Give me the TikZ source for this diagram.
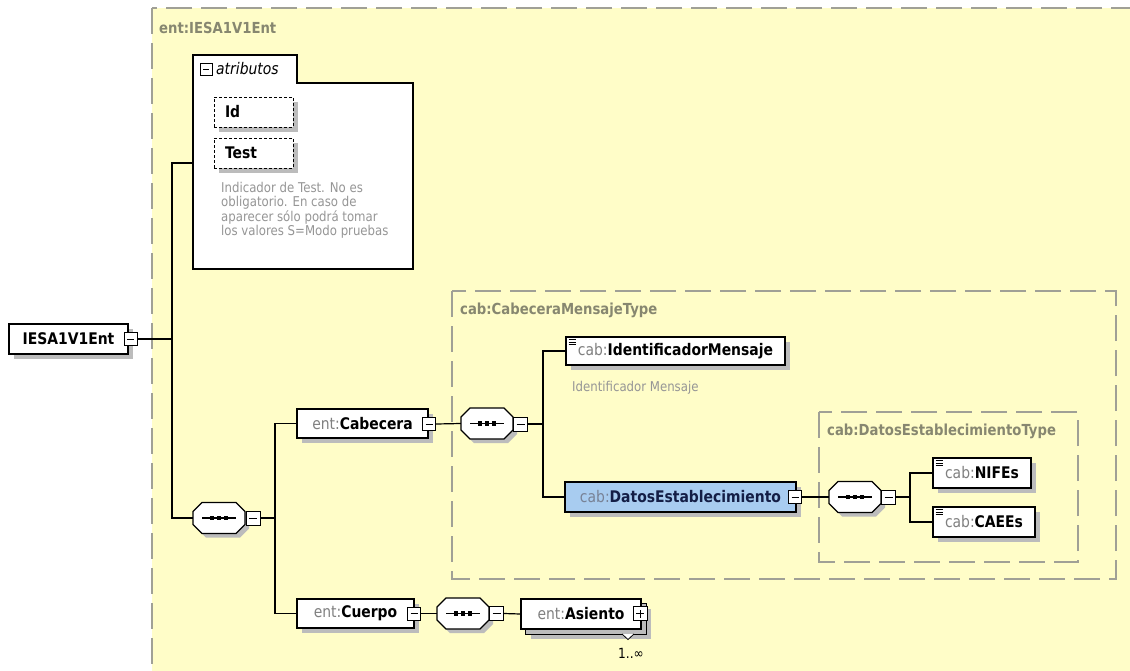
\documentclass[tikz,border=0pt]{standalone}
\usepackage{fontspec}
\setmainfont{DejaVu Sans}[FakeStretch=0.87]
\usetikzlibrary{shadows,calc}
\definecolor{bgY}{RGB}{255,253,200}
\definecolor{dashG}{RGB}{160,160,150}
\definecolor{typeG}{RGB}{135,135,112}
\definecolor{pfxG}{RGB}{128,128,128}
\definecolor{descG}{RGB}{150,150,150}
\definecolor{shadG}{RGB}{188,188,188}
\definecolor{selB}{RGB}{168,204,240}
\definecolor{selT}{RGB}{20,30,70}
\definecolor{selP}{RGB}{120,130,150}
\newcommand\xpfx[1]{{\color{pfxG}#1}}
\newcommand\seqsym[3]{%
 \begin{scope}[shift={(#2,#3)}]
  \fill[shadG] (-13,-11.5) -- (21,-11.5) -- (30,-2.5) -- (30,10.5) -- (21,19.5) -- (-13,19.5) -- (-22,10.5) -- (-22,-2.5) -- cycle;
  \node[seqbox] (#1) at (0,0) {};
  \draw[line width=1.2pt, fill=white] (-17,-15.5) -- (17,-15.5) -- (26,-6.5) -- (26,6.5) -- (17,15.5) -- (-17,15.5) -- (-26,6.5) -- (-26,-6.5) -- cycle;
  \draw[line width=1.1pt] (-17,0) -- (17,0);
  \foreach \dx in {-7,0,7} \fill ({\dx-2.2},-2.2) rectangle ({\dx+2.2},2.2);
 \end{scope}}
\tikzset{
 conn/.style={draw=black, line width=1.2pt},
 typebox/.style={draw=dashG, line width=1.1pt, dash pattern=on 26pt off 9pt, fill=bgY},
 typelbl/.style={text=typeG, font=\bfseries\fontsize{15.2}{18}\selectfont, inner sep=0pt, anchor=west},
 elem/.style={draw=black, line width=1.2pt, fill=white, inner sep=0pt, font=\fontsize{16}{19}\selectfont,
   drop shadow={opacity=1, fill=shadG, shadow xshift=5pt, shadow yshift=-5pt}},
 simple/.style={path picture={\draw[line width=0.7pt]
   ([xshift=2.5pt,yshift=-2.5pt]path picture bounding box.north west) -- ++(7pt,0pt)
   ([xshift=2.5pt,yshift=-5pt]path picture bounding box.north west) -- ++(7pt,0pt)
   ([xshift=2.5pt,yshift=-7.5pt]path picture bounding box.north west) -- ++(7pt,0pt);}},
 tog/.style={draw=black, fill=white, line width=1pt, minimum size=13pt, inner sep=0pt,
   path picture={\draw[line width=1pt] ([xshift=3pt]path picture bounding box.west) -- ([xshift=-3pt]path picture bounding box.east);}},
 togplus/.style={draw=black, fill=white, line width=1pt, minimum size=13pt, inner sep=0pt,
   path picture={\draw[line width=1pt] ([xshift=3pt]path picture bounding box.west) -- ([xshift=-3pt]path picture bounding box.east)
     ([yshift=3pt]path picture bounding box.south) -- ([yshift=-3pt]path picture bounding box.north);}},
 attrel/.style={draw=black, line width=1pt, dash pattern=on 3pt off 2pt, fill=white, inner xsep=11pt, inner ysep=0pt,
   text width=57pt, minimum height=30pt, align=left, font=\bfseries\fontsize{16}{19}\selectfont,
   drop shadow={opacity=1, fill=shadG, shadow xshift=5pt, shadow yshift=-5pt}},
 desc/.style={text=descG, font=\fontsize{13.5}{14.5}\selectfont, inner sep=0pt, align=left},
 seqbox/.style={draw=none, minimum width=52pt, minimum height=31pt, inner sep=0pt},
}
\begin{document}
\begin{tikzpicture}[x=1pt,y=-1pt]
\clip (0,0) rectangle (1130,670);
\fill[white] (0,0) rectangle (1130,670);
% outer type box
\draw[typebox] (152,8) rectangle (1160,700);
\node[typelbl] (tOuter) at (159,28) {ent:IESA1V1Ent};
% attributes
\draw[line width=1.2pt, fill=white] (193,83) -- (193,55) -- (297,55) -- (297,83) -- (413,83) -- (413,269) -- (193,269) -- cycle;
\coordinate (attrL) at (193,163);
\node[tog, minimum size=12pt] (attrm) at (206,69) {};
\node[anchor=west, inner sep=0pt, font=\itshape\fontsize{16}{19}\selectfont] (attrlbl) at (216,69) {atributos};
\node[attrel] (id) at (253.5,112) {Id};
\node[attrel] (test) at (253.5,153) {Test};
\node[desc, anchor=north west] (testdesc) at (221,182) {Indicador de Test. No es\\obligatorio. En caso de\\aparecer sólo podrá tomar\\los valores S=Modo pruebas};
% root
\node[elem, minimum width=119pt, minimum height=30pt] (root) at (68.5,339) {\textbf{IESA1V1Ent}};
\node[tog] (rootm) at (130.5,339) {};
\coordinate (j1) at (172,339);
% sequence 1
\seqsym{s1}{219}{518}
\node[tog, minimum size=14pt] (s1m) at (253,518) {};
\coordinate (j2) at (275,518);
% Cabecera
\node[elem, minimum width=131pt, minimum height=29pt] (cab) at (362.5,423.5) {\xpfx{ent:}\textbf{Cabecera}};
\node[tog] (cabm) at (429,424) {};
% Cabecera type box
\draw[typebox] (452,291) rectangle (1116,579);
\node[typelbl] (tCab) at (460,310) {cab:CabeceraMensajeType};
\seqsym{s2}{487}{423.5}
\node[tog, minimum size=14pt] (s2m) at (520.5,424) {};
\coordinate (j3) at (543,424);
\node[elem, simple, minimum width=219pt, minimum height=28pt] (idmsg) at (675.5,351) {\xpfx{cab:}\textbf{IdentificadorMensaje}};
\node[desc, anchor=west] (idmsgdesc) at (572,388) {Identificador Mensaje};
\node[elem, fill=selB, minimum width=231pt, minimum height=30pt] (dat) at (680.5,497) {{\color{selP}cab:}\textbf{\color{selT}DatosEstablecimiento}};
\node[tog] (datm) at (795,497) {};
% Datos type box
\draw[typebox] (819,412) rectangle (1078,562);
\node[typelbl] (tDat) at (827,431) {cab:DatosEstablecimientoType};
\seqsym{s3}{855}{497}
\node[tog, minimum size=14pt] (s3m) at (888.5,497) {};
\coordinate (j4) at (910,497);
\node[elem, simple, minimum width=98pt, minimum height=30pt] (nif) at (982,473) {\xpfx{cab:}\textbf{NIFEs}};
\node[elem, simple, minimum width=102pt, minimum height=30pt] (cae) at (984,522) {\xpfx{cab:}\textbf{CAEEs}};
% Cuerpo
\node[elem, minimum width=117pt, minimum height=29pt] (cue) at (355.5,613.5) {\xpfx{ent:}\textbf{Cuerpo}};
\node[tog] (cuem) at (414,613.5) {};
\seqsym{s4}{463}{613.5}
\node[tog, minimum size=14pt] (s4m) at (496.5,613.5) {};
\node[elem, minimum width=120pt, minimum height=30pt] (asb) at (586,619) {};
\node[elem, minimum width=120pt, minimum height=30pt] (as) at (581,614) {\xpfx{ent:}\textbf{Asiento}\hspace{10pt}};
\node[togplus, minimum size=14pt] (asm) at (640,613.5) {};
\draw[line width=0.8pt, fill=white] (622,634) -- (628,639.5) -- (634,634);
\node[inner sep=0pt, font=\fontsize{14}{16}\selectfont] (mult) at (631,653) {1..∞};
% connectors
\draw[conn] (rootm.east) -- (j1);
\draw[conn] (attrL) -- (attrL -| j1) -- (j1 |- s1.west) -- (s1.west);
\draw[conn] (s1m.east) -- (j2);
\draw[conn] (cab.west) -| (j2) |- (cue.west);
\draw[conn] (cabm.east) -- (s2.west);
\draw[conn] (s2m.east) -- (j3);
\draw[conn] (idmsg.west) -| (j3) |- (dat.west);
\draw[conn] (datm.east) -- (s3.west);
\draw[conn] (s3m.east) -- (j4);
\draw[conn] (nif.west) -| (j4) |- (cae.west);
\draw[conn] (cuem.east) -- (s4.west);
\draw[conn] (s4m.east) -- (as.west);
\end{tikzpicture}
\end{document}
